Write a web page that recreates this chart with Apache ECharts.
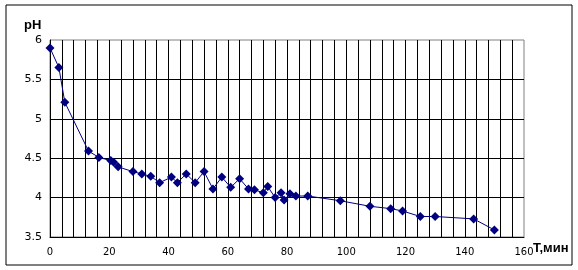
<!DOCTYPE html>
<html>
<head>
<meta charset="utf-8">
<script src="https://cdn.jsdelivr.net/npm/echarts@6/dist/echarts.min.js"></script>
<style>html,body{margin:0;padding:0;background:#fff}#c{width:578px;height:270px}</style>
</head>
<body>
<div id="c"></div>
<script>
const timeMin = [0, 3, 5, 13, 16.5, 20.5, 21.5, 23, 28, 31, 34, 37, 41, 43, 46, 49, 52, 55, 58, 61, 64, 67, 69, 72, 73.5, 76, 78, 79, 81, 83, 87, 98, 108, 115, 119, 125, 130, 143, 150];
const phValues = [5.9, 5.65, 5.21, 4.59, 4.51, 4.47, 4.45, 4.39, 4.33, 4.30, 4.27, 4.19, 4.26, 4.19, 4.30, 4.19, 4.33, 4.11, 4.26, 4.13, 4.24, 4.11, 4.10, 4.06, 4.14, 4.00, 4.06, 3.97, 4.05, 4.02, 4.02, 3.96, 3.89, 3.86, 3.83, 3.76, 3.76, 3.73, 3.59];
const xLabelTicks = [0, 20, 40, 60, 80, 100, 120, 140, 160];
const yAxisTitle = 'pH';
const xAxisTitle = 'T,мин';

const chart = echarts.init(document.getElementById('c'), null, {renderer: 'canvas'});
chart.setOption({
  animation: false,
  backgroundColor: '#fff',
  grid: {left: 50, top: 40, width: 474, height: 197, show: true, borderColor: '#808080', borderWidth: 1, backgroundColor: 'transparent'},
  xAxis: {
    type: 'value', min: 0, max: 160, interval: 4,
    axisLine: {show: true, onZero: false, lineStyle: {color: '#000', width: 1}},
    axisTick: {show: false},
    splitLine: {show: true, showMinLine: false, showMaxLine: false, lineStyle: {color: '#000', width: 1}},
    axisLabel: {margin: 10, fontFamily: 'DejaVu Sans', fontSize: 10, color: '#000', formatter: v => xLabelTicks.indexOf(v) >= 0 ? String(v) : ''}
  },
  yAxis: {
    type: 'value', min: 3.5, max: 6, interval: 0.5,
    axisLine: {show: true, onZero: false, lineStyle: {color: '#000', width: 1}},
    axisTick: {show: false},
    splitLine: {show: true, showMinLine: false, showMaxLine: false, lineStyle: {color: '#000', width: 1}},
    axisLabel: {margin: 8, fontFamily: 'DejaVu Sans', fontSize: 11, color: '#000', formatter: v => String(Math.round(v * 10) / 10)}
  },
  graphic: [
    {type: 'rect', shape: {x: 6, y: 5, width: 566, height: 260}, style: {fill: 'none', stroke: '#000', lineWidth: 1}, silent: true},
    {type: 'text', left: 24, top: 19, style: {text: yAxisTitle, font: 'bold 13px "Liberation Sans"', fill: '#000'}},
    {type: 'text', left: 533, top: 242, style: {text: xAxisTitle, font: 'bold 13px "Liberation Sans"', fill: '#000'}}
  ],
  series: [{
    type: 'line',
    data: timeMin.map((t, i) => [t, phValues[i]]),
    symbol: 'diamond', symbolSize: 9,
    lineStyle: {color: '#000080', width: 1},
    itemStyle: {color: '#000080'},
    z: 5
  }]
});
</script>
</body>
</html>
